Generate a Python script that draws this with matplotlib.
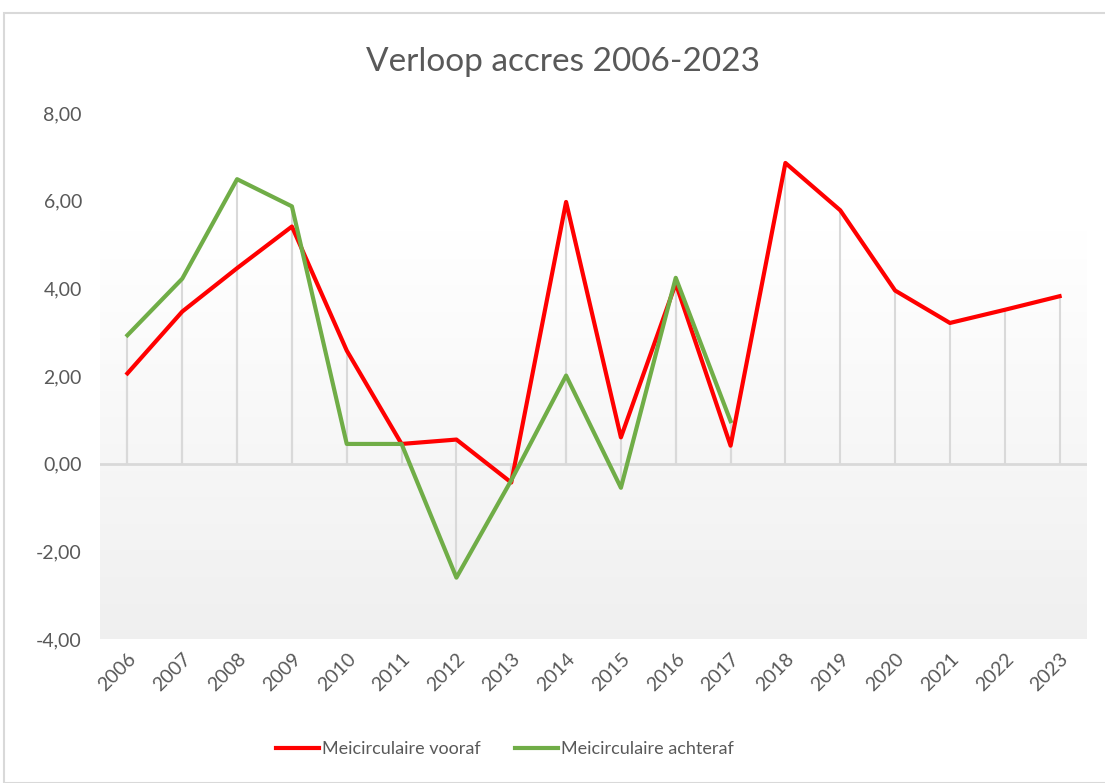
import numpy as np
import matplotlib.pyplot as plt
from matplotlib.patches import Rectangle

# ── Data ──────────────────────────────────────────────────────────────
years = [str(y) for y in range(2006, 2024)]
vooraf = [2.06, 3.47, 4.46, 5.41, 2.58, 0.45, 0.55, -0.43, 5.97, 0.60,
          4.11, 0.41, 6.86, 5.78, 3.95, 3.21, 3.51, 3.82]
achteraf = [2.93, 4.22, 6.49, 5.87, 0.45, 0.45, -2.60, -0.38, 2.01, -0.55,
            4.24, 0.97]
yticks = [-4, -2, 0, 2, 4, 6, 8]

RED = "#FF0000"
GREEN = "#70AD47"
TXT = "#595959"
GRID = "#D9D9D9"

plt.rcParams["font.family"] = ["Lato", "DejaVu Sans"]

fig = plt.figure(figsize=(11.05, 7.83), dpi=100)
W, H = 1105, 783

# outer chart border
fig.patches.append(Rectangle((4 / W, 0), 1.2, 1 - 13 / H, transform=fig.transFigure,
                             fill=False, edgecolor=GRID, linewidth=1.5))

ax = fig.add_axes([100 / W, 1 - 639 / H, (1087 - 100) / W, (639 - 113) / H])
x = np.arange(len(years))
xa = np.arange(len(achteraf))

ax.set_xlim(-0.5, len(years) - 0.5)
ax.set_ylim(-4, 8)

# background gradient: white at the top, light grey towards the bottom
vals = np.linspace(8, -4, 256)
shade = np.clip((5.3 - vals) / 9.3, 0, 1)
col = 1.0 - 0.06 * shade
img = np.repeat(col[:, None, None], 3, axis=2).repeat(2, axis=1)
ax.imshow(img, extent=(-0.5, len(years) - 0.5, -4, 8), aspect="auto", zorder=0)

# drop lines
ax.vlines(x, 0, vooraf, color=GRID, linewidth=1.5, zorder=1)
ax.vlines(xa, 0, achteraf, color=GRID, linewidth=1.5, zorder=1)
ax.axhline(0, color=GRID, linewidth=2, zorder=1)

ax.plot(x, vooraf, color=RED, linewidth=3, label="Meicirculaire vooraf", zorder=3,
        solid_joinstyle="round")
ax.plot(xa, achteraf, color=GREEN, linewidth=3, label="Meicirculaire achteraf", zorder=3,
        solid_joinstyle="round")

for s in ax.spines.values():
    s.set_visible(False)

ax.set_yticks(yticks)
ax.set_yticklabels([f"{v:.2f}".replace(".", ",") for v in yticks])
ax.set_xticks(x)
ax.set_xticklabels(years, rotation=45, ha="right", rotation_mode="anchor")
ax.tick_params(axis="both", length=0, labelsize=14, colors=TXT)
ax.tick_params(axis="y", pad=13)
ax.tick_params(axis="x", pad=8)

fig.text(563 / W, 1 - 62 / H, "Verloop accres 2006-2023", ha="center", va="center",
         fontsize=24, color=TXT)

fig.legend(loc="center", bbox_to_anchor=(505 / W, 1 - 749 / H), ncol=2, frameon=False,
           fontsize=13, handlelength=2.4, handletextpad=0.15, columnspacing=1.9,
           labelcolor=TXT)

fig.savefig("out.png", dpi=100)
